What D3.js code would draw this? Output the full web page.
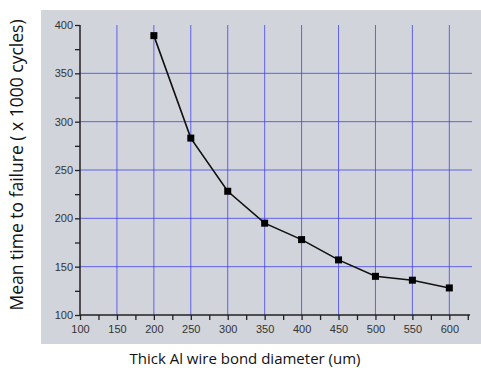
<!DOCTYPE html>
<html>
<head>
<meta charset="utf-8">
<script src="https://cdn.jsdelivr.net/npm/d3@7"></script>
<style>
  body { margin: 0; background: #fff; }
  svg { display: block; }
</style>
</head>
<body>
<div id="chart"></div>
<script>
// wire bond diameter (um) vs mean time to failure (x 1000 cycles)
const diameters = [200, 250, 300, 350, 400, 450, 500, 550, 600];
const mttf = [389, 283, 228, 195, 178, 157, 140, 136, 128];
const xTicks = [100, 150, 200, 250, 300, 350, 400, 450, 500, 550, 600];
const yTicks = [100, 150, 200, 250, 300, 350, 400];

const width = 481;
const height = 368;

const svg = d3.select('#chart')
    .append('svg')
    .attr('width', width)
    .attr('height', height);

// gray plot panel
svg.append('rect')
    .attr('x', 41)
    .attr('y', 10)
    .attr('width', width - 41)
    .attr('height', 334)
    .attr('fill', '#d1d4da');

const x = d3.scaleLinear()
    .domain([100, 628])
    .range([80, 470]);

const y = d3.scaleLinear()
    .domain([100, 400])
    .range([315, 25]);

// grid
svg.append('g')
    .selectAll('line')
    .data(xTicks.slice(1))
    .join('line')
    .attr('x1', d => x(d)).attr('x2', d => x(d))
    .attr('y1', y(400)).attr('y2', y(100))
    .attr('stroke', '#3b3bf0')
    .attr('stroke-opacity', 0.75)
    .attr('stroke-width', 1);

svg.append('g')
    .selectAll('line')
    .data(yTicks.slice(1, -1))
    .join('line')
    .attr('x1', x(100)).attr('x2', 472)
    .attr('y1', d => y(d)).attr('y2', d => y(d))
    .attr('stroke', '#3b3bf0')
    .attr('stroke-opacity', 0.75)
    .attr('stroke-width', 1);

// axes
const xAxis = svg.append('g')
    .attr('transform', `translate(0,${y(100)})`)
    .call(d3.axisBottom(x).tickValues(d3.range(100, 626, 25)).tickSize(5)
        .tickFormat(d => d % 50 === 0 ? d : ''));
xAxis.select('.domain').attr('d', `M${x(100)},0H${x(628)}`);

const yAxis = svg.append('g')
    .attr('transform', `translate(${x(100)},0)`)
    .call(d3.axisLeft(y).tickValues(d3.range(100, 401, 25)).tickSize(5)
        .tickFormat(d => d % 50 === 0 ? d : ''));
yAxis.select('.domain').attr('d', `M0,${y(400)}V${y(100)}`);

[xAxis, yAxis].forEach(g => {
    g.select('.domain').attr('stroke', '#222').attr('stroke-width', 1.5);
    g.selectAll('.tick line').attr('stroke', '#222').attr('stroke-width', 1.3);
    g.selectAll('.tick text')
        .attr('fill', '#333')
        .attr('font-family', 'Liberation Sans, Arial, sans-serif')
        .attr('font-size', '11px');
});
xAxis.selectAll('.tick text').attr('dy', '0.95em');
yAxis.selectAll('.tick text').attr('x', -7);

// line + markers
const pts = diameters.map((d, i) => ({ d, v: mttf[i] }));

svg.append('path')
    .datum(pts)
    .attr('fill', 'none')
    .attr('stroke', '#111')
    .attr('stroke-width', 1.6)
    .attr('d', d3.line().x(p => x(p.d)).y(p => y(p.v)));

svg.selectAll('rect.marker')
    .data(pts)
    .join('rect')
    .attr('class', 'marker')
    .attr('x', p => x(p.d) - 3.5)
    .attr('y', p => y(p.v) - 3.5)
    .attr('width', 7)
    .attr('height', 7)
    .attr('fill', '#000');

// titles
svg.append('text')
    .attr('x', 245)
    .attr('y', 364)
    .attr('text-anchor', 'middle')
    .attr('font-family', 'Open Sans, sans-serif')
    .attr('font-size', '15px')
    .attr('fill', '#111')
    .text('Thick Al wire bond diameter (um)');

svg.append('text')
    .attr('transform', 'rotate(-90)')
    .attr('x', -165)
    .attr('y', 23)
    .attr('text-anchor', 'middle')
    .attr('font-family', 'Open Sans, sans-serif')
    .attr('font-size', '17.5px')
    .attr('fill', '#111')
    .text('Mean time to failure ( x 1000 cycles)');
</script>
</body>
</html>
